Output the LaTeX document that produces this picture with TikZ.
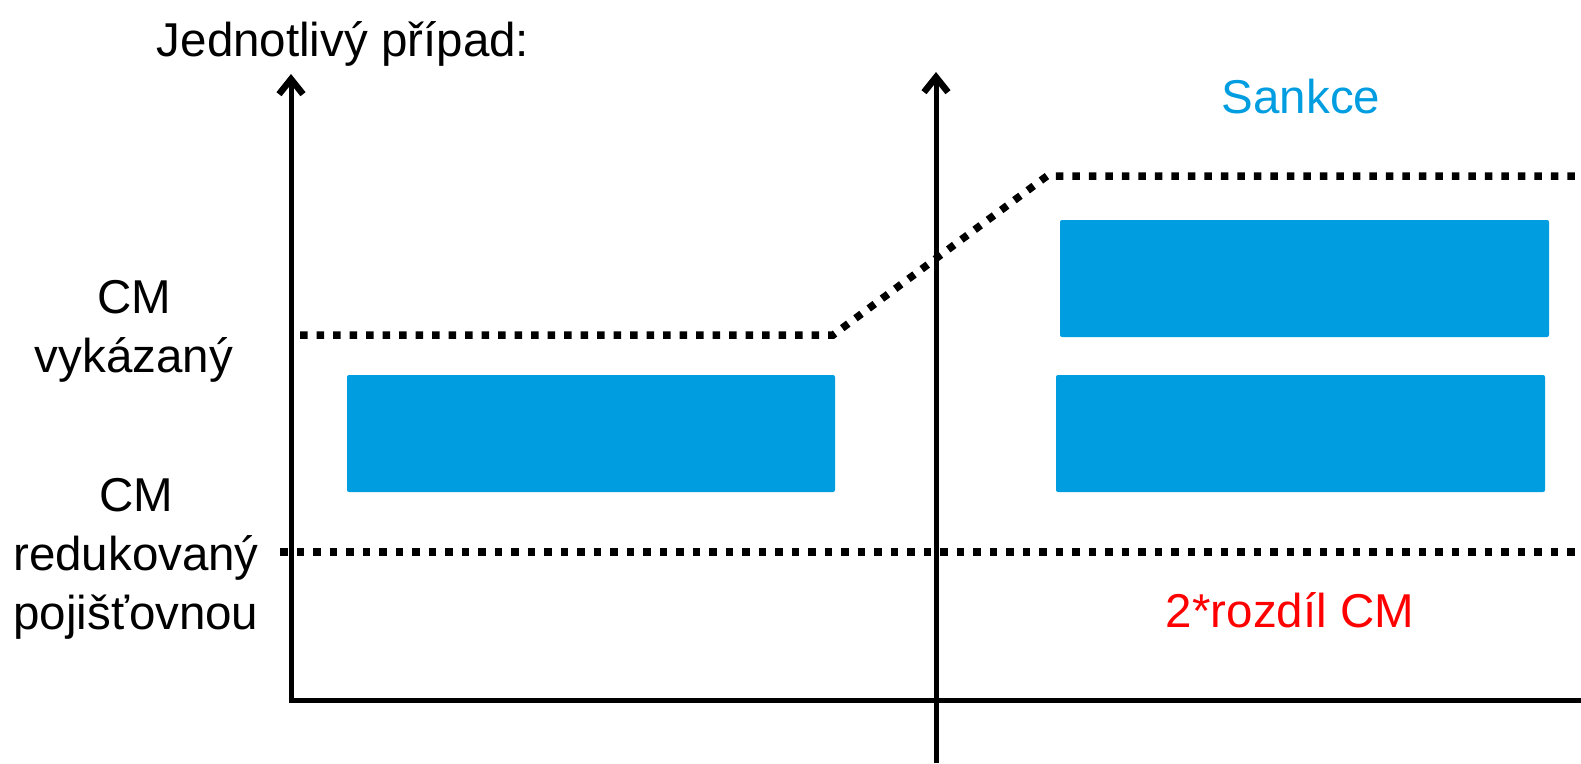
\documentclass[tikz,border=0pt]{standalone}
\usepackage{fontspec}
\setmainfont{Liberation Sans}
\usetikzlibrary{arrows.meta}
\definecolor{sankceblue}{RGB}{0,157,224}
\tikzset{
  axisline/.style={line width=5pt, -{Straight Barb[length=15pt,width=24pt,line width=6.5pt]}},
  cmline/.style={line width=7.5pt, dash pattern=on 7.5pt off 9pt},
  bar/.style={fill=sankceblue, rounded corners=2pt},
  lbl/.style={inner sep=0pt, font=\fontsize{47.5}{59}\selectfont}
}
\begin{document}
\begin{tikzpicture}[x=1pt, y=-1pt]
    \useasboundingbox (0,0) rectangle (1581,763);
    % axes
    \coordinate (origin) at (291,700);
    \coordinate (ytop) at (291,74);
    \coordinate (xend) at (1581,700);
    \coordinate (midbot) at (936,763);
    \coordinate (midtop) at (936,72);
    \draw[axisline] (xend) -- (origin) -- (ytop);
    \draw[axisline] (midbot) -- (midtop);
    % bars
    \fill[bar] (347,375) rectangle (835,492);
    \fill[bar] (1060,220) rectangle (1549,337);
    \fill[bar] (1056,375) rectangle (1545,492);
    % CM levels
    \draw[cmline] (300,335) -- (833,335) -- (1047,176) -- (1581,176);
    \draw[cmline] (280,552) -- (1581,552);
    % texts
    \node[lbl, anchor=base] (title) at (343,56) {Jednotlivý případ:};
    \node[lbl, anchor=base, align=center] (cmvyk) at (134,372) {CM\\vykázaný};
    \node[lbl, anchor=base, align=center] (cmred) at (136,629) {CM\\redukovaný\\pojišťovnou};
    \node[lbl, anchor=base, text=sankceblue] (sankce) at (1301,113) {Sankce};
    \node[lbl, anchor=base, text=red] (rozdil) at (1290,627) {2*rozdíl CM};
\end{tikzpicture}
\end{document}
